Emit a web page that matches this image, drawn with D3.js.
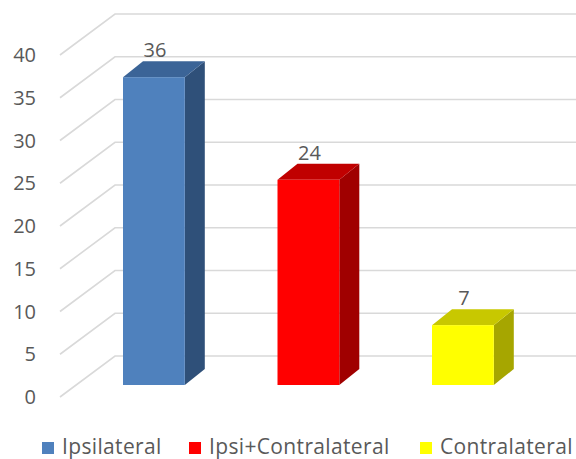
<!DOCTYPE html>
<html>
<head>
<meta charset="utf-8">
<script src="https://cdn.jsdelivr.net/npm/d3@7"></script>
<style>
  html, body { margin: 0; padding: 0; background: #fff; }
  svg { display: block; }
  text { font-family: "Open Sans", "Liberation Sans", sans-serif; fill: #595959; }
</style>
</head>
<body>
<svg id="chart" width="576" height="459"></svg>
<script>
// ---- data ----
const categories = ["Ipsilateral", "Ipsi+Contralateral", "Contralateral"];
const values = [36, 24, 7];
const yTicks = [0, 5, 10, 15, 20, 25, 30, 35, 40];
const frontColors = ["#4f81bd", "#ff0000", "#ffff00"];
const topColors = ["#3b6497", "#c00000", "#c8c800"];
const sideColors = ["#2f5079", "#a00000", "#a6a600"];

// ---- layout ----
const W = 576, H = 459;
const svg = d3.select("#chart");

// floor/wall geometry (pseudo 3D)
const wallFrontX = 60, wallBackX = 115, wallDY = 41;
const frontZeroY = 397;   // y of value 0 on the front edge
const pxPerUnit = 8.55;
const y = d3.scaleLinear().domain([0, 40]).range([frontZeroY, frontZeroY - 40 * pxPerUnit]);

// bars sit slightly behind front edge
const barOffsetY = 12;
const depthX = 20, depthY = 16;

const x = d3.scaleBand().domain(categories)
  .range([76.65, 540.15]).paddingInner(0.6).paddingOuter(0.3);

// gridlines
const grid = svg.append("g");
yTicks.forEach(t => {
  const yf = y(t), yb = y(t) - wallDY;
  grid.append("polyline")
    .attr("points", `${wallFrontX},${yf} ${wallBackX},${yb} ${W + 2},${yb}`)
    .attr("fill", "none")
    .attr("stroke", "#d9d9d9")
    .attr("stroke-width", 1.6);
});

// y axis labels
svg.append("g").selectAll("text").data(yTicks).join("text")
  .attr("x", 36)
  .attr("y", d => y(d))
  .attr("dy", "0.36em")
  .attr("text-anchor", "end")
  .attr("font-size", 20)
  .text(d => d);

// bars
const bars = svg.append("g").selectAll("g").data(values).join("g");
bars.each(function (v, i) {
  const g = d3.select(this);
  const x0 = x(categories[i]);
  const bw = x.bandwidth();
  const yb = y(0) - barOffsetY;
  const yt = y(v) - barOffsetY;
  g.append("path")
    .attr("d", `M${x0 + bw},${yt} L${x0 + bw + depthX},${yt - depthY} L${x0 + bw + depthX},${yb - depthY} L${x0 + bw},${yb} Z`)
    .attr("fill", sideColors[i]);
  g.append("path")
    .attr("d", `M${x0},${yt} L${x0 + depthX},${yt - depthY} L${x0 + bw + depthX},${yt - depthY} L${x0 + bw},${yt} Z`)
    .attr("fill", topColors[i]);
  g.append("rect")
    .attr("x", x0).attr("y", yt)
    .attr("width", bw).attr("height", yb - yt)
    .attr("fill", frontColors[i]);
  g.append("text")
    .attr("x", x0 + bw / 2 + 1)
    .attr("y", yt - 20)
    .attr("text-anchor", "middle")
    .attr("font-size", 20)
    .text(v);
});

// legend
const legendX = [42, 189, 420];
const legend = svg.append("g").selectAll("g").data(categories).join("g")
  .attr("transform", (d, i) => `translate(${legendX[i]},442)`);
legend.append("rect").attr("width", 12).attr("height", 12)
  .attr("fill", (d, i) => frontColors[i]);
legend.append("text")
  .attr("x", 20).attr("y", 11.5)
  .attr("font-size", 21)
  .attr("letter-spacing", 0.35)
  .text(d => d);
</script>
</body>
</html>
